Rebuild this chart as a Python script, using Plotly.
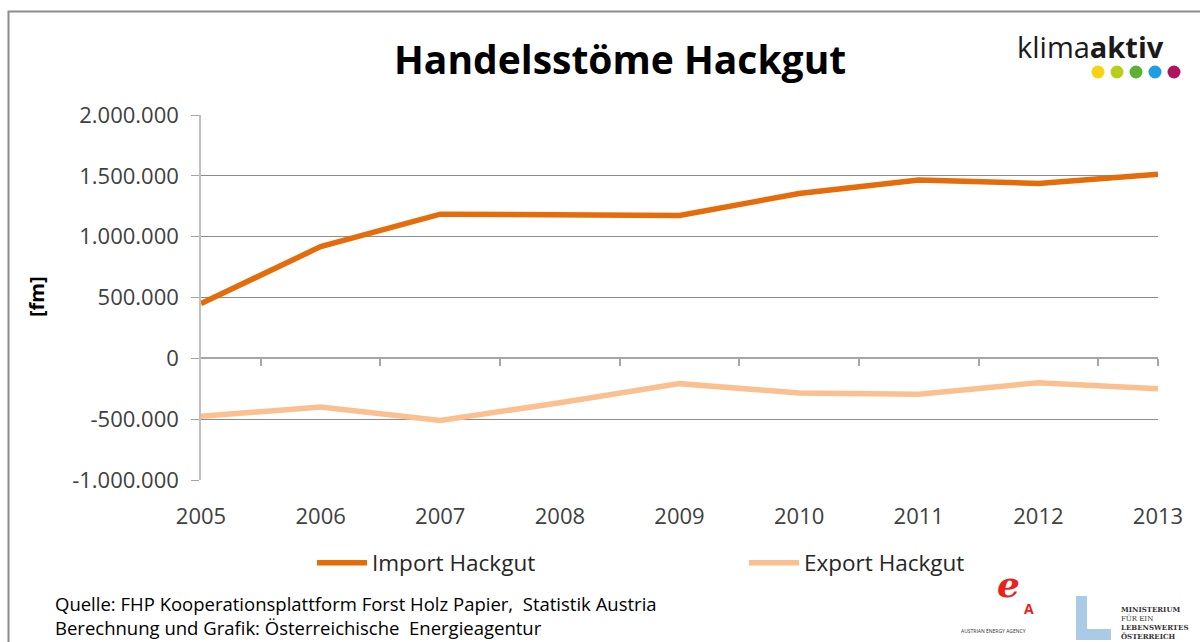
import plotly.graph_objects as go

years = ["2005", "2006", "2007", "2008", "2009", "2010", "2011", "2012", "2013"]
import_hackgut = [450000, 918000, 1185000, 1177000, 1174000, 1355000, 1465000, 1438000, 1514000]
export_hackgut = [-477000, -400000, -510000, -365000, -208000, -285000, -296000, -200000, -250000]
y_ticks = [-1000000, -500000, 0, 500000, 1000000, 1500000, 2000000]
y_labels = ["-1.000.000", "-500.000", "0", "500.000", "1.000.000", "1.500.000", "2.000.000"]

W, H = 1200, 642
L, R, T, B = 201, 42, 115, 162
PW, PH = W - L - R, H - T - B

def px(x):
    return (x - L) / PW

def py(y):
    return (H - B - y) / PH

FONT = "Open Sans, Liberation Sans, sans-serif"
xs = list(range(len(years)))

fig = go.Figure()
fig.add_trace(go.Scatter(x=xs, y=import_hackgut, mode="lines", name="Import Hackgut",
                         line=dict(color="#E46C0A", width=5.5), legend="legend"))
fig.add_trace(go.Scatter(x=xs, y=export_hackgut, mode="lines", name="Export Hackgut",
                         line=dict(color="#FAC090", width=5.5), legend="legend2"))

leg_common = dict(orientation="h", yanchor="middle", xanchor="left",
                  font=dict(size=22.5, color="#262626", family=FONT),
                  bgcolor="rgba(0,0,0,0)", itemwidth=50)

fig.update_layout(
    width=W, height=H,
    margin=dict(l=L, r=R, t=T, b=B, pad=0),
    paper_bgcolor="white", plot_bgcolor="white",
    font=dict(family=FONT, size=22, color="#404040"),
    showlegend=True,
    legend=dict(x=px(312), y=py(563), **leg_common),
    legend2=dict(x=px(744), y=py(563), **leg_common),
    xaxis=dict(range=[0, len(years) - 1], tickvals=xs, ticktext=years, showgrid=False,
               zeroline=False, showline=False, ticks="", ticklabelstandoff=21,
               tickfont=dict(size=22, color="#404040")),
    xaxis2=dict(overlaying="x", range=[0, len(years) - 1], anchor="free", position=py(358),
                side="bottom", showline=True, linecolor="#A6A6A6", linewidth=1.5, ticks="outside",
                tickmode="array", tickvals=[i + 0.5 for i in xs[:-1]] + [xs[-1]], ticklen=7,
                tickwidth=1.5, tickcolor="#A6A6A6", showticklabels=False, showgrid=False,
                zeroline=False),
    yaxis=dict(range=[-1000000, 2000000], tickvals=y_ticks, ticktext=y_labels,
               showgrid=True, gridcolor="#8C8C8C", gridwidth=1, zeroline=False,
               showline=True, linecolor="#BFBFBF", linewidth=1.5,
               ticks="outside", ticklen=8, tickcolor="#A6A6A6", ticklabelstandoff=8,
               tickfont=dict(size=22, color="#404040")),
)
# invisible helper so the zero-line category axis renders
fig.add_trace(go.Scatter(x=[xs[0]], y=[0], xaxis="x2", yaxis="y", mode="markers",
                         marker=dict(opacity=0), showlegend=False, hoverinfo="skip"))

# outer frame
fig.add_shape(type="rect", xref="paper", yref="paper", x0=px(8.5), x1=px(1215), y0=py(11.5), y1=py(660),
              line=dict(color="#8C8C8C", width=2), fillcolor="rgba(0,0,0,0)", layer="below")

# title
fig.add_annotation(text="<b>Handelsstöme Hackgut</b>", xref="paper", yref="paper", x=px(620), y=py(58),
                   showarrow=False, font=dict(size=39, color="#000000", family=FONT),
                   xanchor="center", yanchor="middle")
# y-axis title
fig.add_annotation(text="<b>[fm]</b>", xref="paper", yref="paper", x=px(36), y=py(297), textangle=-90,
                   showarrow=False, font=dict(size=20, color="#000000", family=FONT),
                   xanchor="center", yanchor="middle")
# source notes
fig.add_annotation(text="Quelle: FHP Kooperationsplattform Forst Holz Papier,  Statistik Austria<br>"
                        "Berechnung und Grafik: Österreichische  Energieagentur",
                   xref="paper", yref="paper", x=px(53), y=py(615), xanchor="left", yanchor="middle",
                   align="left", showarrow=False, font=dict(size=18.5, color="#000000", family=FONT))

# klimaaktiv logo
fig.add_annotation(text="klima<b>aktiv</b>", xref="paper", yref="paper", x=px(1166), y=py(46),
                   xanchor="right", yanchor="middle", showarrow=False,
                   font=dict(size=29, color="#1A1A1A", family=FONT))
dot_colors = ["#F9D312", "#B7CF1A", "#5DB132", "#1D9DE2", "#B0145F"]
dot_x = [1098, 1117, 1136, 1155, 1174]
for c, dx in zip(dot_colors, dot_x):
    fig.add_shape(type="circle", xref="paper", yref="paper", x0=px(dx - 6.5), x1=px(dx + 6.5),
                  y0=py(72 + 6.5), y1=py(72 - 6.5), fillcolor=c, line=dict(width=0))

# bottom-right logos
fig.add_annotation(text="<b><i>e</i></b>", xref="paper", yref="paper", x=px(1022), y=py(607),
                   showarrow=False, font=dict(size=36, color="#E8231B", family="DejaVu Serif"))
fig.add_annotation(text="<b>A</b>", xref="paper", yref="paper", x=px(1036), y=py(620),
                   showarrow=False, font=dict(size=14, color="#E8231B", family=FONT))
fig.add_annotation(text="AUSTRIAN ENERGY AGENCY", xref="paper", yref="paper", x=px(1028), y=py(636),
                   showarrow=False, font=dict(size=5, color="#333333", family=FONT))
fig.add_shape(type="rect", xref="paper", yref="paper", x0=px(1076), x1=px(1087), y0=py(640), y1=py(596),
              fillcolor="#A9CBE6", line=dict(width=0))
fig.add_shape(type="rect", xref="paper", yref="paper", x0=px(1076), x1=px(1111), y0=py(640), y1=py(629),
              fillcolor="#A9CBE6", line=dict(width=0))
fig.add_annotation(text="<b>MINISTERIUM</b><br>FÜR EIN<br><b>LEBENSWERTES</b><br><b>ÖSTERREICH</b>",
                   xref="paper", yref="paper", x=px(1119), y=py(623), xanchor="left", yanchor="middle",
                   align="left", showarrow=False,
                   font=dict(size=7, color="#333333", family="DejaVu Serif"))

fig.write_html("out.html", config={"displayModeBar": False},
               post_script="document.body.style.margin='0';")
